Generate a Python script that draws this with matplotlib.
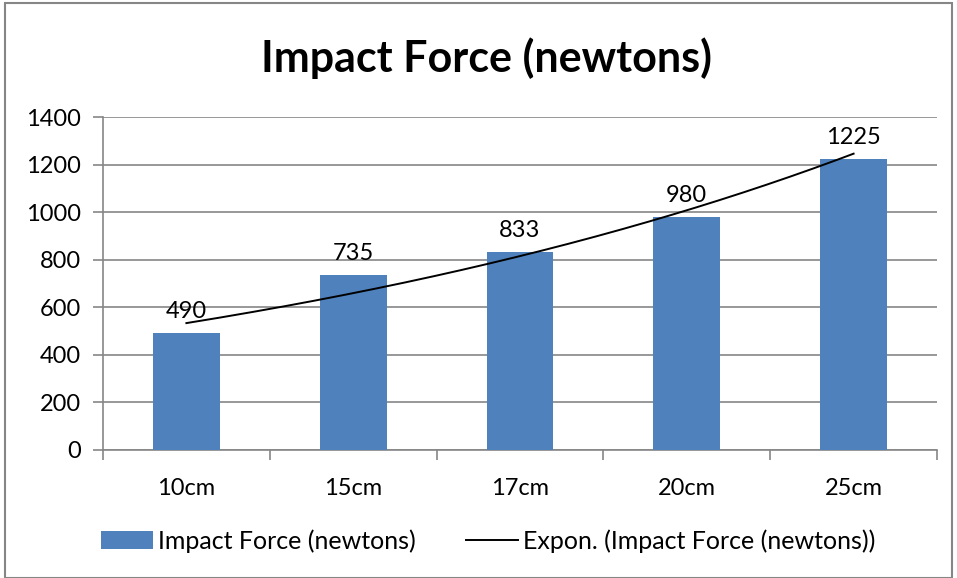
import numpy as np
import matplotlib.pyplot as plt
from matplotlib.patches import Rectangle

plt.rcParams['font.family'] = ['Lato', 'DejaVu Sans']

categories = ["10cm", "15cm", "17cm", "20cm", "25cm"]
force = [490, 735, 833, 980, 1225]
yticks = [0, 200, 400, 600, 800, 1000, 1200, 1400]

bar_color = "#4F81BD"
grid_color = "#868686"

fig = plt.figure(figsize=(9.57, 5.78), dpi=100)
ax = fig.add_axes([103 / 957, 1 - 450 / 578, (937 - 103) / 957, (450 - 117) / 578])

x = np.arange(len(categories))
bars = ax.bar(x, force, width=0.4, color=bar_color, zorder=3,
              label="Impact Force (newtons)")

# exponential trendline fitted to the bar values (Excel "Expon.")
b, a = np.polyfit(x + 1, np.log(force), 1)
xs = np.linspace(0, len(categories) - 1, 200)
trend, = ax.plot(xs, np.exp(a + b * (xs + 1)), color="black", lw=1.4, zorder=4,
                 label="Expon. (Impact Force (newtons))")

for xi, v in zip(x, force):
    ax.annotate(str(v), (xi, v), xytext=(0, 8), textcoords="offset points",
                ha="center", va="bottom", fontsize=17, zorder=5)

ax.set_xlim(-0.5, len(categories) - 0.5)
ax.set_ylim(0, 1400)
ax.set_yticks(yticks)
ax.tick_params(axis="y", labelsize=17, length=7, width=1.2, color=grid_color, pad=9)
ax.set_xticks(x)
ax.set_xticklabels(categories)
ax.tick_params(axis="x", which="major", length=0, labelsize=17, pad=20)
ax.set_xticks(np.arange(-0.5, len(categories), 1), minor=True)
ax.tick_params(axis="x", which="minor", length=7, width=1.2, color=grid_color)

ax.grid(axis="y", color=grid_color, lw=1.2, zorder=0)
for s in ["top", "right"]:
    ax.spines[s].set_visible(False)
for s in ["left", "bottom"]:
    ax.spines[s].set_color(grid_color)
    ax.spines[s].set_linewidth(1.2)

fig.text(0.508, 0.9, "Impact Force (newtons)", ha="center", va="center",
         fontsize=31, fontweight="bold")

fig.legend(handles=[bars, trend], loc="center", bbox_to_anchor=(0.51, 0.064),
           ncol=2, frameon=False, fontsize=18, handlelength=2.1,
           handletextpad=0.2, columnspacing=2.0)

fig.patches.append(Rectangle((5 / 957, 0.0), 947 / 957, 1 - 3 / 578,
                             transform=fig.transFigure, fill=False,
                             edgecolor="#868686", lw=1.5))

fig.savefig("out.png", dpi=100)
